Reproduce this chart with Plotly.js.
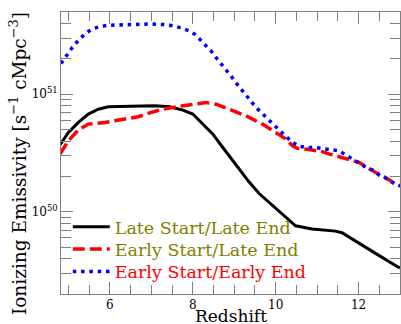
<!DOCTYPE html>
<html>
<head>
<meta charset="utf-8">
<script src="https://cdn.plot.ly/plotly-3.0.1.min.js"></script>
<style>
  html, body { margin: 0; padding: 0; background: #fff; }
  #chart { width: 401px; height: 324px; }
</style>
</head>
<body>
<div id="chart"></div>
<script>
// Ionizing emissivity histories for three reionization scenarios
// (units: s^-1 cMpc^-3)

const lateLateZ = [4.8, 5.0, 5.24, 5.48, 5.72, 5.96, 6.5, 7.08, 7.44, 7.76, 8.0, 8.24, 8.48, 8.72, 8.96, 9.2, 9.36, 9.6, 10.0, 10.48, 10.88, 11.44, 11.6, 12.0, 12.4, 12.96, 13.0];
const lateLate  = [3.72e50, 4.73e50, 5.75e50, 6.78e50, 7.46e50, 7.82e50, 7.9e50, 7.96e50, 7.82e50, 7.33e50, 6.78e50, 5.57e50, 4.59e50, 3.54e50, 2.73e50, 2.1e50, 1.79e50, 1.43e50, 1.07e50, 7.6e49, 7.13e49, 6.85e49, 6.64e49, 5.4e49, 4.45e49, 3.38e49, 3.33e49];

const earlyLateZ = [4.8, 5.0, 5.24, 5.48, 5.88, 6.28, 6.68, 7.0, 7.28, 7.76, 8.32, 8.56, 8.88, 9.28, 9.68, 10.0, 10.24, 10.4, 10.52, 10.8, 11.12, 11.28, 11.48, 11.64, 11.88, 12.0, 12.2, 12.4, 12.64, 12.88, 13.0];
const earlyLate  = [3.11e50, 4.03e50, 4.97e50, 5.57e50, 5.75e50, 6.03e50, 6.43e50, 7.0e50, 7.46e50, 7.96e50, 8.49e50, 8.22e50, 7.46e50, 6.56e50, 5.57e50, 4.73e50, 4.17e50, 3.66e50, 3.47e50, 3.38e50, 3.25e50, 3.11e50, 2.97e50, 2.88e50, 2.73e50, 2.64e50, 2.4e50, 2.17e50, 1.97e50, 1.73e50, 1.66e50];

const earlyEarlyZ = [4.82, 4.92, 5.04, 5.14, 5.28, 5.42, 5.58, 5.76, 5.96, 6.4, 6.96, 7.3, 7.54, 7.72, 7.9, 8.06, 8.2, 8.33, 8.46, 8.58, 8.7, 8.82, 8.94, 9.06, 9.18, 9.3, 9.41, 9.54, 9.68, 9.82, 9.96, 10.1, 10.24, 10.38, 10.56, 10.76, 10.94, 11.14, 11.33, 11.52, 11.69, 11.85, 12.17, 12.35, 12.51, 12.67, 12.87, 13.0];
const earlyEarly  = [1.82e51, 2.065e51, 2.355e51, 2.63e51, 2.972e51, 3.311e51, 3.589e51, 3.758e51, 3.855e51, 3.908e51, 3.954e51, 3.908e51, 3.802e51, 3.656e51, 3.467e51, 3.214e51, 2.877e51, 2.594e51, 2.291e51, 2.014e51, 1.795e51, 1.574e51, 1.4e51, 1.23e51, 1.081e51, 9.68e50, 8.65e50, 7.62e50, 6.78e50, 6.07e50, 5.47e50, 4.9e50, 4.39e50, 3.95e50, 3.61e50, 3.52e50, 3.52e50, 3.43e50, 3.38e50, 3.3e50, 3.05e50, 2.82e50, 2.4e50, 2.25e50, 2.04e50, 1.92e50, 1.73e50, 1.66e50];

const seriesNames = ['Late Start/Late End', 'Early Start/Late End', 'Early Start/Early End'];
const legendTextColors = ['#808000', '#808000', '#ff0000'];

const xTickVals = [6, 8, 10, 12];
const yTickVals = [1e50, 1e51];
const yTickText = ['10<sup>50</sup>', '10<sup>51</sup>'];
const yMinorVals = [3e49, 4e49, 5e49, 6e49, 7e49, 8e49, 9e49,
                    2e50, 3e50, 4e50, 5e50, 6e50, 7e50, 8e50, 9e50,
                    2e51, 3e51, 4e51];

const FONT = 'DejaVu Serif';
const AXIS_GREY = '#808080';

function label(i) {
  return '<span style="color:' + legendTextColors[i] + '">' + seriesNames[i] + '</span>';
}

// one legend box per series so the rows can sit at a tight spacing
function legendBox(yCenter) {
  return {
    x: 0.02, y: yCenter, xanchor: 'left', yanchor: 'middle',
    bgcolor: 'rgba(0,0,0,0)', borderwidth: 0,
    font: { family: FONT, size: 17.5 },
    itemwidth: 37
  };
}

const traces = [
  { x: lateLateZ, y: lateLate, name: label(0), mode: 'lines', legend: 'legend',
    line: { color: '#000000', width: 3 } },
  { x: earlyLateZ, y: earlyLate, name: label(1), mode: 'lines', legend: 'legend2',
    line: { color: '#ff0000', width: 3.5, dash: '12px,5px' } },
  { x: earlyEarlyZ, y: earlyEarly, name: label(2), mode: 'lines', legend: 'legend3',
    line: { color: '#0000ff', width: 3.5, dash: '3.5px,4.8px' } }
];

const layout = {
  width: 401, height: 324,
  margin: { l: 61, r: 1, t: 12, b: 30 },
  paper_bgcolor: '#ffffff', plot_bgcolor: '#ffffff',
  font: { family: FONT, size: 12, color: '#000' },
  showlegend: true,
  legend: legendBox(0.238),
  legend2: legendBox(0.159),
  legend3: legendBox(0.079),
  xaxis: {
    range: [4.82, 13.0],
    tickmode: 'array', tickvals: xTickVals,
    ticks: 'inside', ticklen: 12, tickwidth: 1, tickcolor: AXIS_GREY,
    showline: true, linecolor: AXIS_GREY, linewidth: 1, mirror: 'ticks',
    showgrid: false, zeroline: false,
    tickfont: { family: FONT, size: 12 },
    minor: { dtick: 0.5, tick0: 0, ticks: 'inside', ticklen: 9, tickcolor: AXIS_GREY, showgrid: false }
  },
  yaxis: {
    type: 'log',
    range: [Math.log10(2e49), Math.log10(5e51)],
    tickmode: 'array', tickvals: yTickVals, ticktext: yTickText,
    ticks: 'inside', ticklen: 12, tickwidth: 1, tickcolor: AXIS_GREY,
    showline: true, linecolor: AXIS_GREY, linewidth: 1, mirror: 'ticks',
    showgrid: false, zeroline: false,
    tickfont: { family: FONT, size: 12 },
    minor: { tickmode: 'array', tickvals: yMinorVals, ticks: 'inside', ticklen: 10, tickcolor: AXIS_GREY, showgrid: false }
  },
  annotations: [
    {
      text: 'Redshift',
      xref: 'paper', yref: 'paper', x: 0.5, y: -0.078,
      xanchor: 'center', yanchor: 'middle',
      showarrow: false, font: { family: FONT, size: 17, color: '#000' }
    },
    {
      text: 'Ionizing Emissivity [s<sup>\u22121</sup> cMpc<sup>\u22123</sup>]',
      xref: 'paper', yref: 'paper', x: -0.127, y: 0.464,
      xanchor: 'center', yanchor: 'middle', textangle: -90,
      showarrow: false, font: { family: FONT, size: 18.5, color: '#000' }
    }
  ]
};

Plotly.newPlot('chart', traces, layout, { staticPlot: true, displayModeBar: false });
</script>
</body>
</html>
